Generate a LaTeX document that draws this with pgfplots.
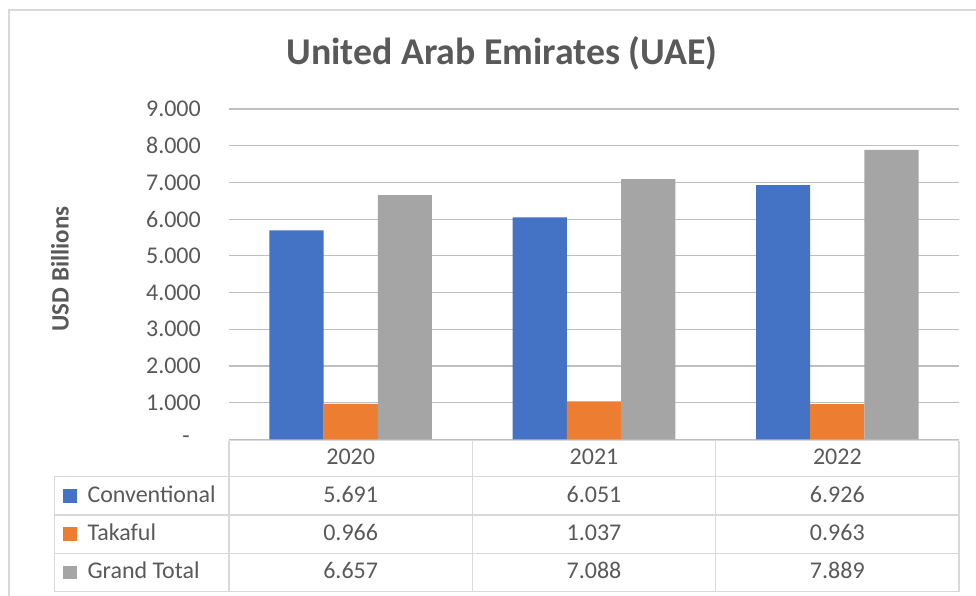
\documentclass[border=0pt]{standalone}
\usepackage{pgfplots}
\usepackage{pgfplotstable}
\pgfplotsset{compat=1.18}
\usepackage{fontspec}
\setmainfont{Carlito}
\definecolor{cblue}{HTML}{4472C4}
\definecolor{corange}{HTML}{ED7D31}
\definecolor{cgray}{HTML}{A5A5A5}
\definecolor{txt}{HTML}{595959}
\definecolor{grid}{HTML}{D9D9D9}

\pgfplotstableread{
x year conv tak total
0 2020 5.691 0.966 6.657
1 2021 6.051 1.037 7.088
2 2022 6.926 0.963 7.889
}\datatable

\begin{document}
\begin{tikzpicture}[x=1pt,y=1pt]
\useasboundingbox (0,0) rectangle (976,-596);
% chart frame
\draw[grid, line width=2pt] (9,-596) -- (9,-10) -- (976,-10);
% title
\node[text=txt, font=\fontsize{37.8}{42}\selectfont\bfseries] at (502,-53.5) {United Arab Emirates (UAE)};
% y label
\node[text=txt, rotate=90, font=\fontsize{25}{28}\selectfont\bfseries] at (60,-269) {USD Billions};

\begin{axis}[
  at={(229pt,-439.4pt)}, anchor=south west,
  scale only axis, width=730pt, height=330.4pt,
  xmin=-0.5, xmax=2.5, ymin=0, ymax=9,
  ybar=0pt, bar width=54.2pt,
  axis line style={draw=none},
  tick style={draw=none},
  xtick=\empty,
  ytick={0,1,...,9},
  yticklabels={-\hspace*{11pt},1.000,2.000,3.000,4.000,5.000,6.000,7.000,8.000,9.000},
  yticklabel style={text=txt, font=\fontsize{24}{26}\selectfont, inner sep=0pt, anchor=east, xshift=-28pt},
  ymajorgrids, grid style={grid, line width=1.2pt},
  clip=false,
]
\addplot[fill=cblue, draw=none] table[x=x, y=conv]{\datatable};
\addplot[fill=corange, draw=none] table[x=x, y=tak]{\datatable};
\addplot[fill=cgray, draw=none] table[x=x, y=total]{\datatable};
\end{axis}

% data table
\begin{scope}[grid, line width=1.5pt]
\draw (229,-440.7) -- (959,-440.7);
\foreach \yy in {476.7,515,553.3,591.5} \draw (54.3,-\yy) -- (959,-\yy);
\foreach \xx in {229,472.3,715.7,959} \draw (\xx,-440.7) -- (\xx,-591.5);
\draw (54.3,-476.7) -- (54.3,-591.5);
\end{scope}

\foreach \lab/\col/\yc in {Conventional/cblue/495.8, Takaful/corange/534.1, Grand Total/cgray/572.4}{
  \fill[\col] (63.3,-\yc+6.7) rectangle (76.7,-\yc-6.7);
  \node[anchor=west, inner sep=0pt, text=txt, font=\fontsize{24}{26}\selectfont] at (87.3,-\yc-1) {\strut\lab};
}

\foreach \i in {0,1,2}{
  \pgfmathsetmacro{\xc}{229+243.33*(\i+0.5)}
  \pgfplotstablegetelem{\i}{year}\of\datatable
  \node[text=txt, inner sep=0pt, font=\fontsize{24}{26}\selectfont] at (\xc,-459.2) {\strut\pgfplotsretval};
  \pgfplotstablegetelem{\i}{conv}\of\datatable
  \node[text=txt, inner sep=0pt, font=\fontsize{24}{26}\selectfont] at (\xc,-496.8) {\strut\pgfplotsretval};
  \pgfplotstablegetelem{\i}{tak}\of\datatable
  \node[text=txt, inner sep=0pt, font=\fontsize{24}{26}\selectfont] at (\xc,-535.1) {\strut\pgfplotsretval};
  \pgfplotstablegetelem{\i}{total}\of\datatable
  \node[text=txt, inner sep=0pt, font=\fontsize{24}{26}\selectfont] at (\xc,-573.4) {\strut\pgfplotsretval};
}
\end{tikzpicture}
\end{document}
